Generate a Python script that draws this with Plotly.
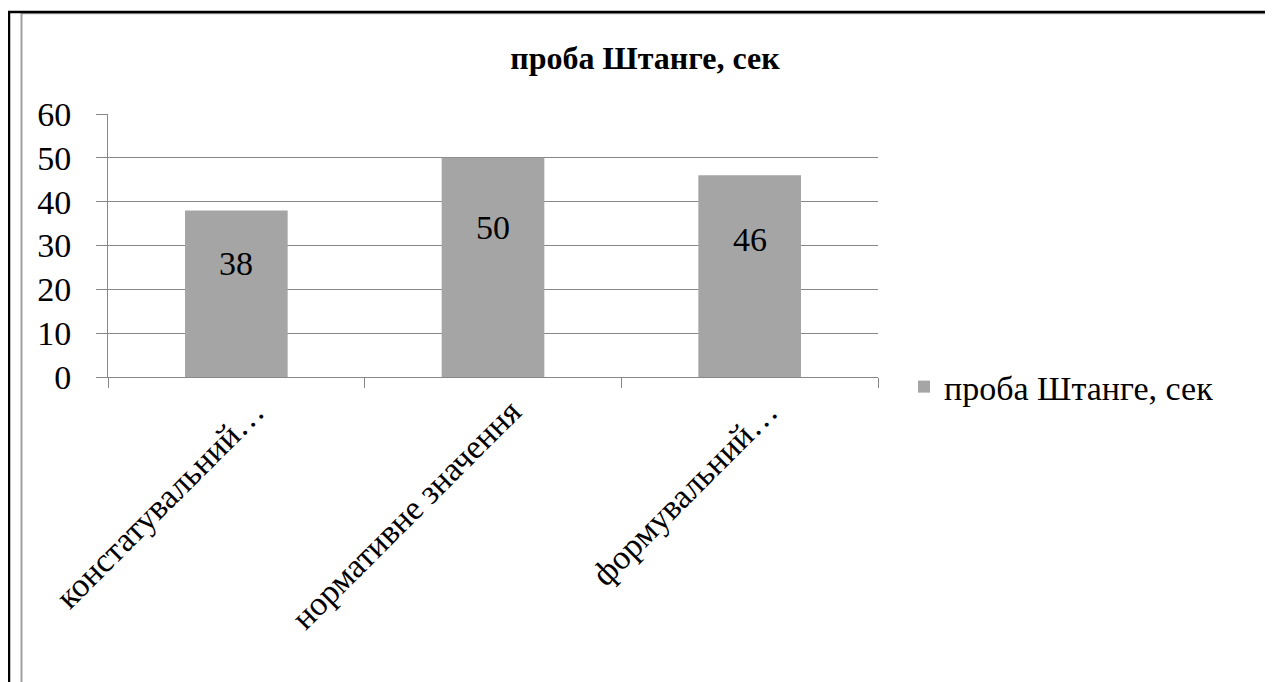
import plotly.graph_objects as go

categories = ["констатувальний…", "нормативне значення", "формувальний…"]
values = [38, 50, 46]
series_name = "проба Штанге, сек"
title_text = "проба Штанге, сек"
y_ticks = [0, 10, 20, 30, 40, 50, 60]

W, H = 1273, 682
OFF = 8  # page body margin
L, R, T, B = 108 - OFF, 878 - OFF, 114 - OFF, 377 - OFF  # plot area in figure pixels

def px(x):
    return (x - OFF - L) / (R - L)

def py(y):
    return (B - (y - OFF)) / (B - T)

FONT = "Liberation Serif, Times New Roman, serif"
FS = 34
GRID = "#878787"
BAR = "#A5A5A5"

fig = go.Figure()
fig.add_trace(go.Bar(
    x=categories, y=values, name=series_name,
    marker=dict(color=BAR, line=dict(width=0)),
    showlegend=True,
))

# data labels inside bars
for c, v in zip(categories, values):
    fig.add_annotation(x=c, y=v * 0.68, xref="x", yref="y", text=str(v),
                       showarrow=False, font=dict(family=FONT, size=FS, color="black"),
                       yanchor="middle")

shapes = [
    dict(type="line", xref="paper", yref="paper", x0=px(21.5), x1=px(21.5), y0=py(13), y1=py(700),
         line=dict(color="#A0A0A0", width=2)),
    dict(type="line", xref="paper", yref="paper", x0=px(21.5), x1=px(1267), y0=py(13.5), y1=py(13.5),
         line=dict(color="#A0A0A0", width=1.5)),
    dict(type="line", xref="paper", yref="paper", x0=px(1267), x1=px(1267), y0=py(13), y1=py(700),
         line=dict(color="#A0A0A0", width=2)),
    dict(type="line", xref="paper", yref="paper", x0=px(8), x1=px(1290), y0=py(12), y1=py(12),
         line=dict(color="black", width=2.5)),
    dict(type="line", xref="paper", yref="paper", x0=px(9), x1=px(9), y0=py(11), y1=py(700),
         line=dict(color="black", width=2.5)),
]

fig.update_layout(
    width=W, height=H,
    margin=dict(l=L, r=W - R, t=T, b=H - B, autoexpand=False),
    paper_bgcolor="white", plot_bgcolor="white",
    font=dict(family=FONT, size=FS, color="black"),
    title=dict(text="<b>" + title_text + "</b>", x=px(645), xref="paper", xanchor="center",
               y=1 - (58 - OFF) / H, yref="container", yanchor="middle",
               font=dict(family=FONT, size=32, color="black")),
    bargap=0.6,
    showlegend=True,
    legend=dict(x=px(904), xanchor="left", y=py(387), yanchor="middle",
                font=dict(family=FONT, size=FS, color="black"),
                bgcolor="rgba(0,0,0,0)", itemwidth=30),
    shapes=shapes,
    xaxis=dict(
        type="category", tickangle=-45, showgrid=False,
        showline=True, linecolor=GRID, linewidth=1,
        ticks="outside", ticklen=10, tickcolor=GRID, tickson="boundaries",
        tickfont=dict(family=FONT, size=FS, color="black"),
        ticklabelshift=18,
    ),
    yaxis=dict(
        range=[0, 60], tickvals=y_ticks, showgrid=True, gridcolor=GRID, gridwidth=1,
        showline=True, linecolor=GRID, linewidth=1,
        ticks="outside", ticklen=11, tickcolor=GRID,
        tickfont=dict(family=FONT, size=FS, color="black"),
        ticklabelstandoff=18, zeroline=False,
    ),
)

fig.write_html("out.html")
